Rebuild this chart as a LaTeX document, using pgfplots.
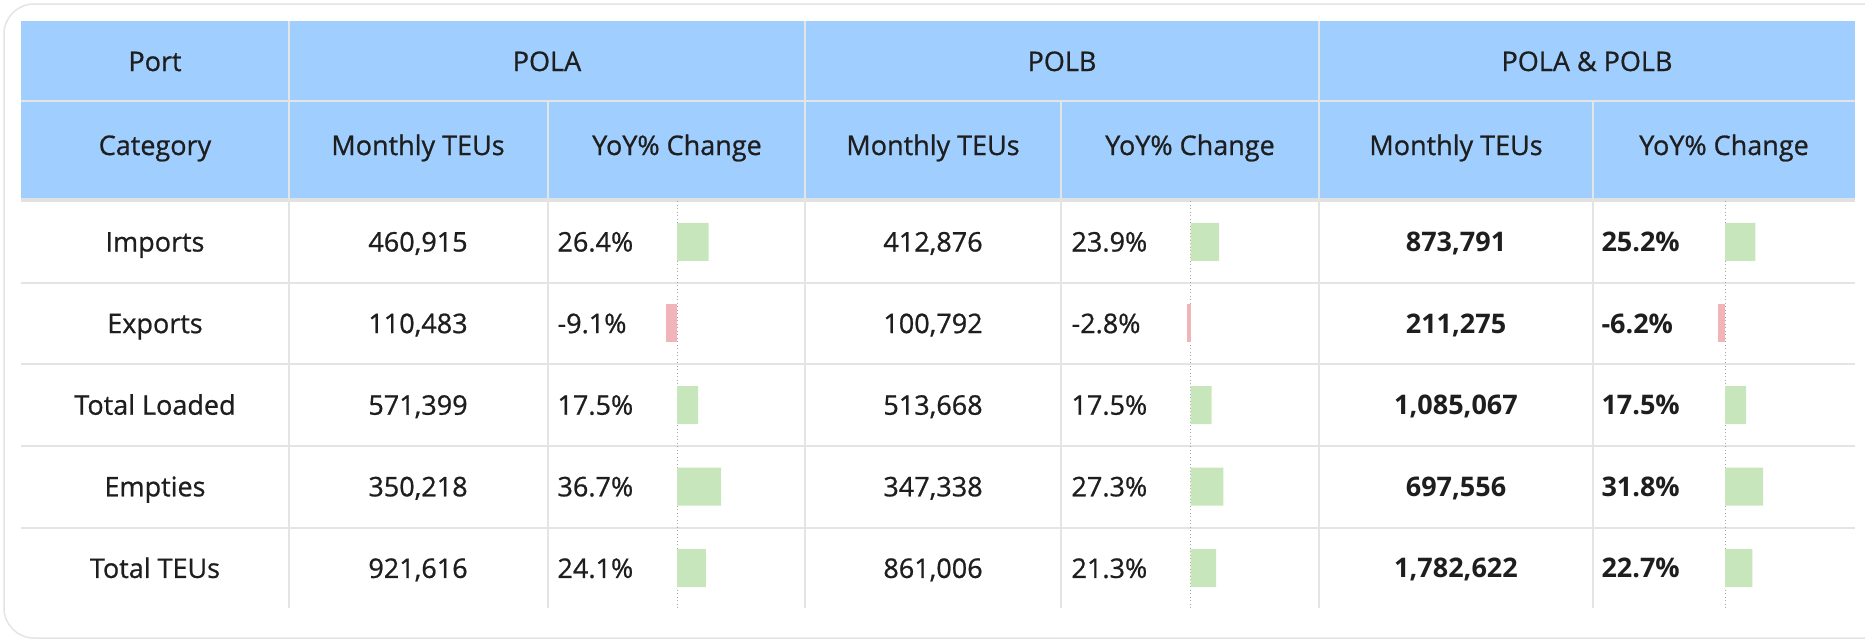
\documentclass[border=0pt]{standalone}
\usepackage{pgfplots}
\pgfplotsset{compat=1.18}
\usepackage{pgfplotstable}
\usepackage{fontspec}
\setmainfont{Open Sans}[UprightFeatures={FakeBold=0.8}]
\definecolor{hdrblue}{HTML}{A0CFFF}
\definecolor{gridgray}{HTML}{E4E4E4}
\definecolor{txt}{HTML}{1E1E1E}
\definecolor{posgreen}{HTML}{C8E6BC}
\definecolor{negred}{HTML}{F0B4B9}

% YoY % change per category (rows 0..4: Imports, Exports, Total Loaded, Empties, Total TEUs)
\pgfplotstableread{
row yoy
0 26.4
1 -9.1
2 17.5
3 36.7
4 24.1
}\polayoy
\pgfplotstableread{
row yoy
0 23.9
1 -2.8
2 17.5
3 27.3
4 21.3
}\polbyoy
\pgfplotstableread{
row yoy
0 25.2
1 -6.2
2 17.5
3 31.8
4 22.7
}\bothyoy

\pgfplotsset{
  barcol/.style={
    scale only axis, hide axis,
    width=28.8pt, height=163.2pt,
    xmin=-20, xmax=40,
    ymin=-0.5, ymax=4.5, y dir=reverse,
    clip=false,
  },
}
\newcommand{\yoybars}[1]{%
  \draw[gray!70, densely dotted, line width=0.4pt] (axis cs:0,-0.5) -- (axis cs:0,4.5);
  \addplot[xbar, bar width=15.2pt, bar shift=0pt, draw=none, fill=posgreen,
    restrict x to domain=0:100] table[x=yoy, y=row] {#1};
  \addplot[xbar, bar width=15.2pt, bar shift=0pt, draw=none, fill=negred,
    restrict x to domain=-100:0] table[x=yoy, y=row] {#1};
}

\begin{document}
\fontsize{10.8}{12}\selectfont
\begin{tikzpicture}[x=0.4pt, y=-0.4pt]
\useasboundingbox (0,0) rectangle (1865,641);
\begin{scope}
\clip (0,0) rectangle (1865,641);
\draw[gridgray, line width=0.6pt, rounded corners=12pt] (4,4) rectangle (1900,638);
\end{scope}

% header background
\fill[hdrblue] (21,21) rectangle (1855,200);

% grid lines
\draw[gridgray, line width=1pt] (21,101) -- (1855,101);
\draw[gridgray!110, line width=1.4pt] (21,200) -- (1855,200);
\foreach \yy in {283,364,446,528} \draw[gridgray, line width=0.9pt] (21,\yy) -- (1855,\yy);
\foreach \xx in {289,805,1319} \draw[gridgray, line width=1pt] (\xx,21) -- (\xx,608);
\foreach \xx in {548,1061,1593} \draw[gridgray, line width=1pt] (\xx,101) -- (\xx,608);

% header text (baseline anchored)
\begin{scope}[txt, every node/.style={anchor=base, inner sep=0pt}]
\node at (155,71) {Port};
\node at (547,71) {POLA};
\node at (1062,71) {POLB};
\node at (1587,71) {POLA \& POLB};
\node at (155,155) {Category};
\node at (418,155) {Monthly TEUs};
\node at (933,155) {Monthly TEUs};
\node at (1456,155) {Monthly TEUs};
\node at (677,155) {YoY\% Change};
\node at (1190,155) {YoY\% Change};
\node at (1724,155) {YoY\% Change};

% body text
\foreach \lab [count=\i from 0] in {Imports,Exports,Total Loaded,Empties,Total TEUs}
  \node at (155,251.5+81.6*\i) {\lab};
\foreach \a/\b/\c [count=\i from 0] in {460{,}915/412{,}876/873{,}791, 110{,}483/100{,}792/211{,}275,
    571{,}399/513{,}668/1{,}085{,}067, 350{,}218/347{,}338/697{,}556, 921{,}616/861{,}006/1{,}782{,}622} {
  \node at (418,251.5+81.6*\i) {\a};
  \node at (933,251.5+81.6*\i) {\b};
  \node at (1456,251.5+81.6*\i) {\bfseries \c};
}
\foreach \a/\b/\c [count=\i from 0] in {26.4/23.9/25.2, -9.1/-2.8/-6.2, 17.5/17.5/17.5, 36.7/27.3/31.8, 24.1/21.3/22.7} {
  \node[anchor=base west] at (557,251.5+81.6*\i) {\a\%};
  \node[anchor=base west] at (1071,251.5+81.6*\i) {\b\%};
  \node[anchor=base west] at (1601,251.5+81.6*\i) {\bfseries\c\%};
}
\end{scope}

% data bars
\begin{axis}[barcol, at={(261.2pt,-243.6pt)}, anchor=south west]
\yoybars{\polayoy}
\end{axis}
\begin{axis}[barcol, at={(466.6pt,-243.6pt)}, anchor=south west]
\yoybars{\polbyoy}
\end{axis}
\begin{axis}[barcol, at={(680.4pt,-243.6pt)}, anchor=south west]
\yoybars{\bothyoy}
\end{axis}
\end{tikzpicture}
\end{document}
